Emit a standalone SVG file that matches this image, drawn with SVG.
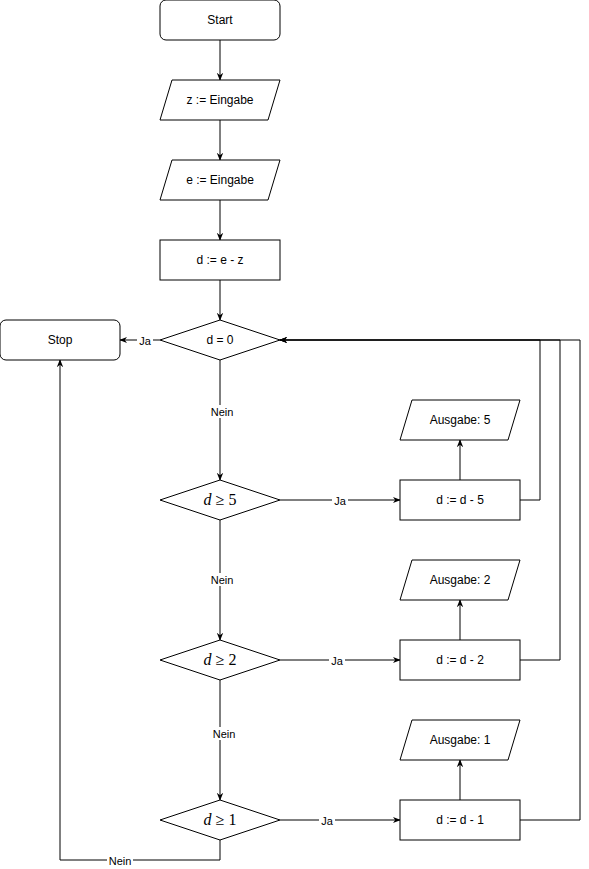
<svg xmlns="http://www.w3.org/2000/svg" width="589" height="869" viewBox="0 0 589 869">
<defs>
<marker id="arr" viewBox="0 0 10 10" refX="9" refY="5" markerWidth="8" markerHeight="8" orient="auto" markerUnits="userSpaceOnUse">
<path d="M0,1 L10,5 L0,9 L3,5 Z" fill="#000"/>
</marker>
<style>
.s{fill:#fff;stroke:#000;stroke-width:1}
.t{font-family:"Liberation Sans",Arial,sans-serif;font-size:12px;text-anchor:middle;dominant-baseline:central;fill:#000}
.m{font-family:"Liberation Serif","Times New Roman",serif;font-size:16px;text-anchor:middle;dominant-baseline:central;fill:#000}
.e{fill:none;stroke:#000;stroke-width:1;marker-end:url(#arr)}
.l{font-family:"Liberation Sans",Arial,sans-serif;font-size:11px;text-anchor:middle;dominant-baseline:central;fill:#000}
.lb{fill:#fff}
</style>
</defs>
<rect width="589" height="869" fill="#fff"/>
<g id="edges">
<path class="e" d="M220,40 V80"/>
<path class="e" d="M220,120 V160"/>
<path class="e" d="M220,200 V240"/>
<path class="e" d="M220,280 V320"/>
<path class="e" d="M160,340 H120"/>
<path class="e" d="M220,360 V480"/>
<path class="e" d="M220,520 V640"/>
<path class="e" d="M220,680 V800"/>
<path class="e" d="M280,500 H400"/>
<path class="e" d="M280,660 H400"/>
<path class="e" d="M280,820 H400"/>
<path class="e" d="M460,480 V440"/>
<path class="e" d="M460,640 V600"/>
<path class="e" d="M460,800 V760"/>
<path class="e" d="M520,500 H540 V340 H280"/>
<path class="e" d="M520,660 H560 V340 H280"/>
<path class="e" d="M520,820 H580 V340 H280"/>
<path class="e" d="M220,840 V860 H60 V360"/>
<rect class="lb" x="137" y="334" width="16" height="13"/>
<text class="l" x="145" y="341">Ja</text>
<rect class="lb" x="209" y="405" width="26" height="13"/>
<text class="l" x="222" y="412">Nein</text>
<rect class="lb" x="209" y="573" width="26" height="13"/>
<text class="l" x="222" y="580">Nein</text>
<rect class="lb" x="211" y="727" width="26" height="13"/>
<text class="l" x="224" y="734">Nein</text>
<rect class="lb" x="332" y="494" width="16" height="13"/>
<text class="l" x="340" y="501">Ja</text>
<rect class="lb" x="329" y="654" width="16" height="13"/>
<text class="l" x="337" y="661">Ja</text>
<rect class="lb" x="319" y="814" width="16" height="13"/>
<text class="l" x="327" y="821">Ja</text>
<rect class="lb" x="107" y="854" width="26" height="13"/>
<text class="l" x="120" y="861">Nein</text>
</g>
<g id="start"><rect class="s" x="160" y="0" width="120" height="40" rx="6"/><text class="t" x="220" y="20">Start</text></g>
<g id="inz"><path class="s" d="M172,80 H280 L268,120 H160 Z"/><text class="t" x="220" y="100">z := Eingabe</text></g>
<g id="ine"><path class="s" d="M172,160 H280 L268,200 H160 Z"/><text class="t" x="220" y="180">e := Eingabe</text></g>
<g id="calc"><rect class="s" x="160" y="240" width="120" height="40"/><text class="t" x="220" y="260">d := e - z</text></g>
<g id="d0"><path class="s" d="M220,320 L280,340 L220,360 L160,340 Z"/><text class="t" x="220" y="340">d = 0</text></g>
<g id="stop"><rect class="s" x="0" y="320" width="120" height="40" rx="6"/><text class="t" x="60" y="340">Stop</text></g>
<g id="d5"><path class="s" d="M220,480 L280,500 L220,520 L160,500 Z"/><text class="m" x="220" y="499"><tspan font-style="italic">d</tspan> ≥ 5</text></g>
<g id="d2"><path class="s" d="M220,640 L280,660 L220,680 L160,660 Z"/><text class="m" x="220" y="659"><tspan font-style="italic">d</tspan> ≥ 2</text></g>
<g id="d1"><path class="s" d="M220,800 L280,820 L220,840 L160,820 Z"/><text class="m" x="220" y="819"><tspan font-style="italic">d</tspan> ≥ 1</text></g>
<g id="sub5"><rect class="s" x="400" y="480" width="120" height="40"/><text class="t" x="460" y="500">d := d - 5</text></g>
<g id="out5"><path class="s" d="M412,400 H520 L508,440 H400 Z"/><text class="t" x="460" y="420">Ausgabe: 5</text></g>
<g id="sub2"><rect class="s" x="400" y="640" width="120" height="40"/><text class="t" x="460" y="660">d := d - 2</text></g>
<g id="out2"><path class="s" d="M412,560 H520 L508,600 H400 Z"/><text class="t" x="460" y="580">Ausgabe: 2</text></g>
<g id="sub1"><rect class="s" x="400" y="800" width="120" height="40"/><text class="t" x="460" y="820">d := d - 1</text></g>
<g id="out1"><path class="s" d="M412,720 H520 L508,760 H400 Z"/><text class="t" x="460" y="740">Ausgabe: 1</text></g>
</svg>
